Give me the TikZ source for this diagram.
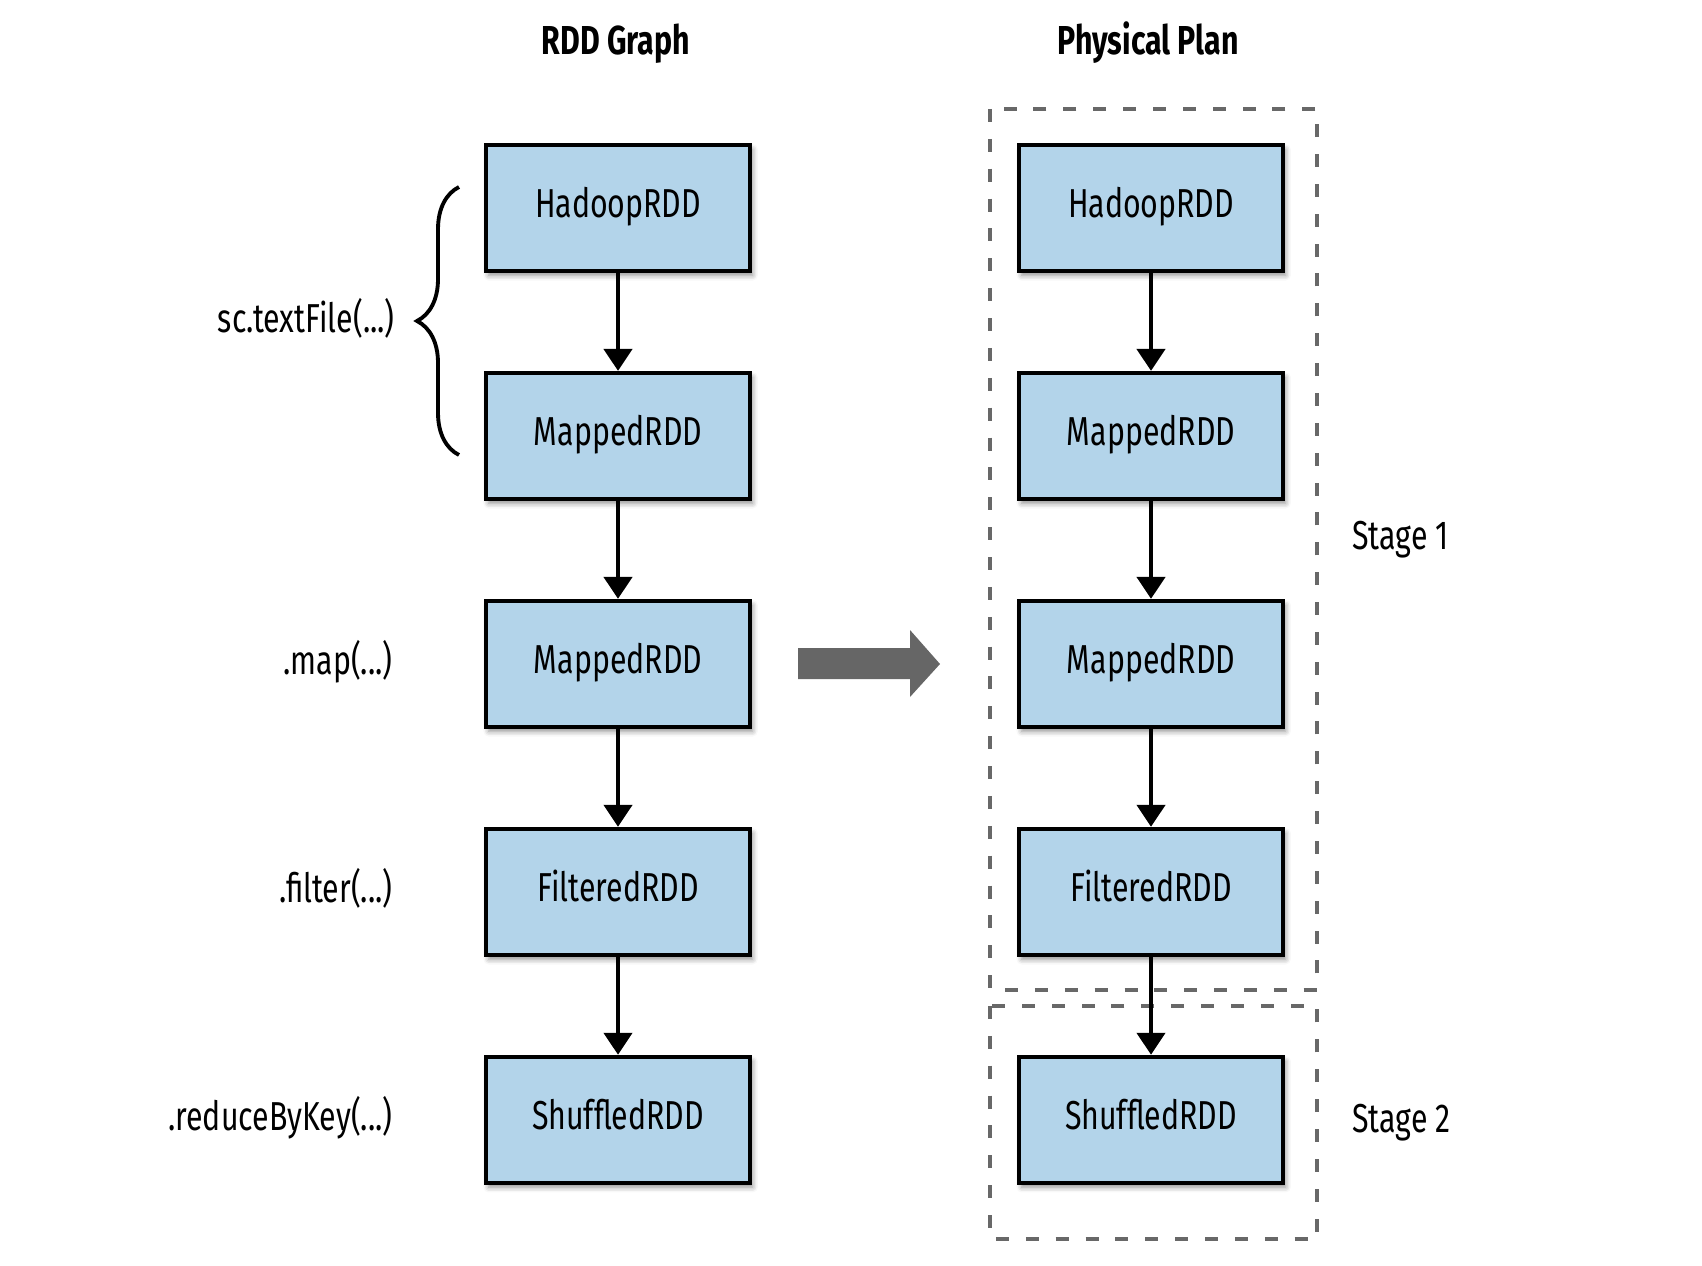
\documentclass[tikz,border=0pt]{standalone}
\usepackage{fontspec}
\setmainfont{Fira Sans}[FakeStretch=0.75]
\usetikzlibrary{positioning,arrows.meta,shadows.blur,decorations.pathreplacing}
\definecolor{rddblue}{RGB}{179,212,234}
\definecolor{stagegray}{RGB}{104,104,104}
\definecolor{bigarrow}{RGB}{102,102,102}

\begin{document}
\begin{tikzpicture}[x=0.02cm,y=0.02cm,node distance=4.56cm,on grid,font=\fontsize{23}{27}\selectfont,
    base/.style={rectangle,draw,line width=2.4pt,fill=rddblue,minimum width=5.28cm,minimum height=2.52cm,
        text height=1.1em,text depth=0pt,text centered,
        blur shadow={shadow xshift=1.5pt,shadow yshift=-2.5pt,shadow blur radius=3pt,shadow opacity=45}},
    link/.style={-{Triangle[width=16pt,length=12.5pt]},line width=2.4pt},
    stagebox/.style={draw=stagegray,line width=2.6pt,dash pattern=on 7.4pt off 9.6pt},
    call/.style={anchor=east,inner sep=0pt,text height=1.25em,text depth=0pt},
    title/.style={anchor=base,inner sep=0pt,font=\fontsize{23}{27}\selectfont\bfseries}]

    \useasboundingbox (0,0) rectangle (1702,-1266);

    % stages
    \draw[stagebox] (990,-109) rectangle (1317,-990);
    \draw[stagebox] (990,-1006) rectangle (1317,-1239);

    % RDD graph
    \node[title] (t1) at (616,-55) {RDD Graph};
    \node[base] (1) at (618,-208) {HadoopRDD};
    \node[base, below=of 1] (2) {MappedRDD};
    \node[base, below=of 2] (3) {MappedRDD};
    \node[base, below=of 3] (4) {FilteredRDD};
    \node[base, below=of 4] (5) {ShuffledRDD};

    % physical plan
    \node[title] (t2) at (1148,-55) {Physical Plan};
    \node[base] (6) at (1151,-208) {HadoopRDD};
    \node[base, below=of 6] (7) {MappedRDD};
    \node[base, below=of 7] (8) {MappedRDD};
    \node[base, below=of 8] (9) {FilteredRDD};
    \node[base, below=of 9] (10) {ShuffledRDD};

    \node[anchor=base west,inner sep=0pt] (s1) at (1352,-549) {Stage 1};
    \node[anchor=base west,inner sep=0pt] (s2) at (1352,-1132) {Stage 2};

    % calls
    \coordinate (b1) at (459,-455);
    \coordinate (b2) at (459,-187);
    \draw[line width=2.2pt,decorate,decoration={brace,amplitude=0.84cm}] (b1) -- (b2);
    \node[call] (c1) at (395,-322) {sc.textFile(...)};
    \node[call] (c3) at ([xshift=-1.82cm]3.west) {.map(...)};
    \node[call] (c4) at ([xshift=-1.82cm]4.west) {.filter(...)};
    \node[call] (c5) at ([xshift=-1.82cm]5.west) {.reduceByKey(...)};

    \path[link]
    {
        (1) edge (2)
        (2) edge (3)
        (3) edge (4)
        (4) edge (5)

        (6) edge (7)
        (7) edge (8)
        (8) edge (9)
        (9) edge (10)
    };

    \fill[bigarrow] (798,-648) -- (910,-648) -- (910,-630) -- (940,-664)
        -- (910,-697) -- (910,-679) -- (798,-679) -- cycle;
\end{tikzpicture}
\end{document}
